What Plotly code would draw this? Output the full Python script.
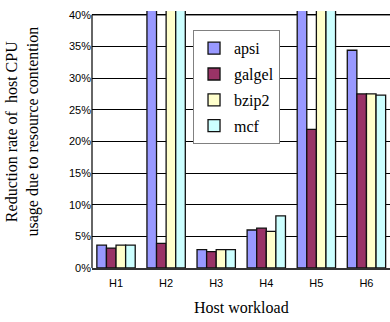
import plotly.graph_objects as go

categories = ["H1", "H2", "H3", "H4", "H5", "H6"]
apsi   = [3.6, 45.0, 2.9, 6.0, 45.0, 34.4]
galgel = [3.15, 3.9, 2.6, 6.3, 21.9, 27.5]
bzip2  = [3.6, 45.0, 2.9, 5.8, 45.0, 27.5]
mcf    = [3.6, 45.0, 2.9, 8.25, 45.0, 27.3]
series_names = ["apsi", "galgel", "bzip2", "mcf"]
series_colors = ["#9999FF", "#993366", "#FFFFCC", "#CCFFFF"]
ytick_vals = [0, 5, 10, 15, 20, 25, 30, 35, 40]
ytick_text = ["0%", "5%", "10%", "15%", "20%", "25%", "30%", "35%", "40%"]

fig = go.Figure()
for name, vals, col in zip(series_names, [apsi, galgel, bzip2, mcf], series_colors):
    fig.add_trace(go.Bar(
        x=categories, y=vals, name=name, legendgroup=name,
        marker=dict(color=col, line=dict(color="#111111", width=1.3)),
    ))

serif = "Liberation Serif"
sans = "Liberation Sans"

fig.update_layout(
    width=390, height=322,
    margin=dict(l=92, r=0, t=11, b=54),
    paper_bgcolor="white", plot_bgcolor="white",
    barmode="group", bargap=0.234, bargroupgap=0,
    showlegend=True,
    legend=dict(
        x=0.339, y=0.925, xanchor="left", yanchor="top",
        bgcolor="white", bordercolor="#808080", borderwidth=1,
        font=dict(family=serif, size=16, color="black"),
        tracegroupgap=2,
    ),
    xaxis=dict(
        range=[-0.48, 5.47], showline=True, linecolor="#333333", linewidth=2,
        showgrid=False, ticks="", ticklabelstandoff=4,
        tickfont=dict(family=sans, size=11, color="black"),
    ),
    yaxis=dict(
        range=[0, 40.6], tickvals=ytick_vals, ticktext=ytick_text,
        showgrid=True, gridcolor="#000000", gridwidth=1, zeroline=False,
        showline=False, ticks="",
        tickfont=dict(family=sans, size=11, color="black"),
    ),
)

# plot border: left axis line up to 40% and top line at 40%
fig.add_shape(type="line", xref="paper", yref="y", x0=0, x1=0, y0=0, y1=40,
              line=dict(color="#333333", width=1.5), layer="below")
fig.add_shape(type="line", xref="paper", yref="y", x0=0, x1=1, y0=40, y1=40,
              line=dict(color="#222222", width=1.5), layer="below")

fig.add_annotation(
    text="Reduction rate of  host CPU<br>usage due to resource contention",
    xref="paper", yref="paper", x=-(92 - 23) / 298, y=0.531,
    xanchor="center", yanchor="middle", textangle=-90, showarrow=False,
    font=dict(family=serif, size=16, color="black"),
)
fig.add_annotation(
    text="Host workload", xref="paper", yref="paper", x=0.5, y=-0.152,
    xanchor="center", yanchor="middle", showarrow=False,
    font=dict(family=serif, size=16, color="black"),
)

fig.write_html(
    "out.html",
    config={"displayModeBar": False},
    post_script="document.body.style.margin='0px';document.body.style.overflow='hidden';",
)
